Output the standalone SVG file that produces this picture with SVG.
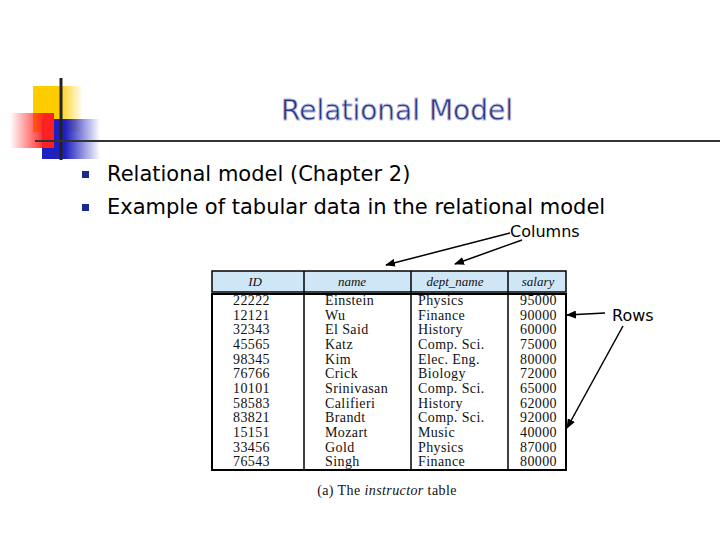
<svg xmlns="http://www.w3.org/2000/svg" width="720" height="540" viewBox="0 0 720 540">
<defs>
<linearGradient id="gy" x1="0" x2="1"><stop offset="0.5" stop-color="#ffcc00"/><stop offset="1" stop-color="#ffcc00" stop-opacity="0"/></linearGradient>
<linearGradient id="gr" x1="1" x2="0"><stop offset="0.2" stop-color="#ff2020"/><stop offset="1" stop-color="#ff2020" stop-opacity="0"/></linearGradient>
<linearGradient id="gb" x1="0" x2="1"><stop offset="0.4" stop-color="#2020c0"/><stop offset="1" stop-color="#2020c0" stop-opacity="0"/></linearGradient>
<marker id="ah" markerWidth="10" markerHeight="8" refX="9" refY="4" orient="auto" markerUnits="userSpaceOnUse"><path d="M0,0 L10,4 L0,8 z" fill="#000"/></marker>
<style>
.t{font-family:"Liberation Serif",serif;font-size:14px;letter-spacing:0.4px;fill:#111}
.h{font-family:"Liberation Serif",serif;font-size:13px;font-style:italic;fill:#111}
.s{font-family:Tahoma,"DejaVu Sans",sans-serif;fill:#000}
.ln{stroke:#000;stroke-width:1.5;fill:none}
</style>
</defs>
<g id="logo">
<rect x="33" y="86" width="50" height="46" fill="url(#gy)"/>
<rect x="42" y="119" width="58" height="40" fill="url(#gb)"/>
<rect x="10" y="113" width="44" height="35" fill="url(#gr)"/>
<line x1="61" y1="78" x2="61" y2="160" stroke="#222" stroke-width="3"/>
<line x1="35" y1="141" x2="720" y2="141" stroke="#333" stroke-width="2"/>
</g>
<text x="397" y="120" text-anchor="middle" font-family="Tahoma,'DejaVu Sans',sans-serif" font-size="28" fill="#24307e" stroke="#b8bce0" stroke-width="0.8">Relational Model</text>
<g id="bullets">
<rect x="82" y="171" width="7" height="7" fill="#1a2a8a"/>
<rect x="82" y="204" width="7" height="7" fill="#1a2a8a"/>
<text class="s" x="107" y="181" font-size="21">Relational model (Chapter 2)</text>
<text class="s" x="107" y="214" font-size="21">Example of tabular data in the relational model</text>
</g>
<g id="table">
<rect x="212" y="271" width="354" height="21" fill="#cfe6f7" stroke="#000" stroke-width="1.5"/>
<rect x="212" y="294" width="354" height="176" fill="#fff" stroke="#000" stroke-width="2"/>
<g stroke="#000" stroke-width="1.5">
<line x1="304" y1="271" x2="304" y2="470"/><line x1="411" y1="271" x2="411" y2="470"/><line x1="508" y1="271" x2="508" y2="470"/>
</g>
<text class="h" x="255" y="286" text-anchor="middle">ID</text>
<text class="h" x="352" y="286" text-anchor="middle">name</text>
<text class="h" x="455" y="286" text-anchor="middle">dept_name</text>
<text class="h" x="538" y="286" text-anchor="middle">salary</text>
<g class="t">
<text x="233" y="305">22222</text><text x="325" y="305">Einstein</text><text x="418" y="305">Physics</text><text x="520" y="305">95000</text>
<text x="233" y="320">12121</text><text x="325" y="320">Wu</text><text x="418" y="320">Finance</text><text x="520" y="320">90000</text>
<text x="233" y="334">32343</text><text x="325" y="334">El Said</text><text x="418" y="334">History</text><text x="520" y="334">60000</text>
<text x="233" y="349">45565</text><text x="325" y="349">Katz</text><text x="418" y="349">Comp. Sci.</text><text x="520" y="349">75000</text>
<text x="233" y="364">98345</text><text x="325" y="364">Kim</text><text x="418" y="364">Elec. Eng.</text><text x="520" y="364">80000</text>
<text x="233" y="378">76766</text><text x="325" y="378">Crick</text><text x="418" y="378">Biology</text><text x="520" y="378">72000</text>
<text x="233" y="393">10101</text><text x="325" y="393">Srinivasan</text><text x="418" y="393">Comp. Sci.</text><text x="520" y="393">65000</text>
<text x="233" y="408">58583</text><text x="325" y="408">Califieri</text><text x="418" y="408">History</text><text x="520" y="408">62000</text>
<text x="233" y="422">83821</text><text x="325" y="422">Brandt</text><text x="418" y="422">Comp. Sci.</text><text x="520" y="422">92000</text>
<text x="233" y="437">15151</text><text x="325" y="437">Mozart</text><text x="418" y="437">Music</text><text x="520" y="437">40000</text>
<text x="233" y="452">33456</text><text x="325" y="452">Gold</text><text x="418" y="452">Physics</text><text x="520" y="452">87000</text>
<text x="233" y="466">76543</text><text x="325" y="466">Singh</text><text x="418" y="466">Finance</text><text x="520" y="466">80000</text>
</g>
<text class="t" x="387" y="495" text-anchor="middle">(a) The <tspan font-style="italic">instructor</tspan> table</text>
</g>
<text class="s" x="510" y="237" font-size="16">Columns</text>
<text class="s" x="612" y="321" font-size="16">Rows</text>
<g id="connectors">
<line class="ln" x1="510" y1="233" x2="386" y2="265" marker-end="url(#ah)"/>
<line class="ln" x1="522" y1="240" x2="455" y2="264" marker-end="url(#ah)"/>
<line class="ln" x1="605" y1="313" x2="567" y2="315" marker-end="url(#ah)"/>
<line class="ln" x1="623" y1="326" x2="567" y2="428" marker-end="url(#ah)"/>
</g>
</svg>
